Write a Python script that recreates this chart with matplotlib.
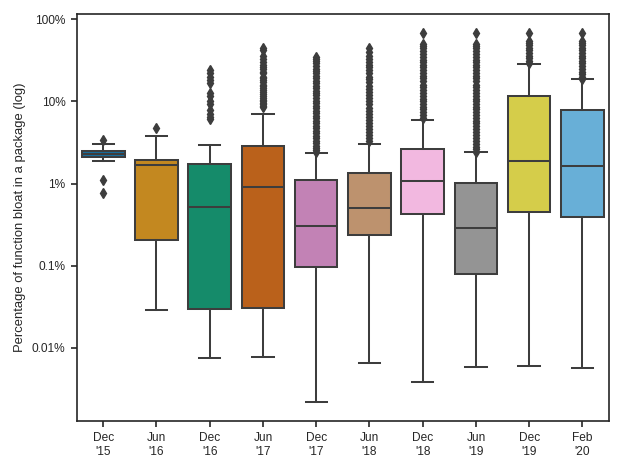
import matplotlib
matplotlib.use("Agg")
import matplotlib.pyplot as plt
import seaborn as sns

# box statistics, in percent
labels = ["Dec\n'15", "Jun\n'16", "Dec\n'16", "Jun\n'17", "Dec\n'17",
          "Jun\n'18", "Dec\n'18", "Jun\n'19", "Dec\n'19", "Feb\n'20"]
med = [2.28, 1.69, 0.52, 0.90, 0.303, 0.506, 1.08, 0.289, 1.86, 1.63]
q1 = [2.08, 0.205, 0.0294, 0.0308, 0.0953, 0.236, 0.428, 0.0797, 0.449, 0.390]
q3 = [2.50, 1.93, 1.75, 2.88, 1.09, 1.36, 2.64, 1.01, 11.5, 7.82]
whislo = [1.86, 0.0288, 0.0075, 0.0077, 0.00217, 0.00648, 0.00384, 0.00589, 0.0060, 0.00573]
whishi = [3.01, 3.77, 2.93, 7.1, 2.34, 3.07, 5.96, 2.41, 28.1, 18.8]

fliers_dec15 = [3.4, 1.1, 0.76]
fliers_jun16 = [4.7]
fliers_dec16 = [24, 22, 20, 18, 16.5, 12.5, 11.5, 10.2, 9.4, 7.8, 7.0, 6.5, 6.1]
fliers_jun17 = [44, 42, 36, 33, 30, 28, 26.5, 25, 23, 22, 20, 19, 18, 17, 16, 15.2,
                14.5, 13.8, 13, 12.3, 11.6, 11, 10.5, 10, 9.6, 9.2, 8.8, 8.5]
fliers_dec17 = [35, 33, 31, 29, 27, 25, 23.5, 22, 20.5, 19, 17.8, 16.6, 15.5, 14.5,
                13.5, 12.6, 11.8, 11, 10.2, 9.5, 8.9, 8.3, 7.7, 7.2, 6.7, 6.2, 5.8,
                5.4, 5.0, 4.7, 4.4, 4.1, 3.8, 3.55, 3.3, 3.1, 2.9, 2.7, 2.55, 2.45]
fliers_jun18 = [44, 40, 36, 33, 30, 28, 26, 24, 22, 20, 18.5, 17, 15.5, 14.2, 13, 12,
                11, 10, 9.2, 8.4, 7.7, 7.0, 6.4, 5.9, 5.4, 5.0, 4.6, 4.2, 3.9, 3.6, 3.3]
fliers_dec18 = [68, 50, 47, 44, 41, 38, 35, 32, 30, 28, 26, 24, 22, 20.5, 19, 17.5,
                16, 14.8, 13.7, 12.7, 11.7, 10.8, 10, 9.3, 8.6, 8.0, 7.4, 6.8, 6.3]
fliers_jun19 = [68, 50, 47, 44, 41, 38, 35, 32, 30, 28, 26, 24, 22, 20.5, 19, 17.5,
                16, 14.8, 13.7, 12.7, 11.7, 10.8, 10, 9.3, 8.6, 8.0, 7.4, 6.8, 6.3,
                5.8, 5.4, 5.0, 4.6, 4.2, 3.9, 3.6, 3.3, 3.05, 2.8, 2.6, 2.45]
fliers_dec19 = [68, 54, 51, 48, 45, 42, 39, 36, 33.5, 31, 29]
fliers_feb20 = [68, 54, 51, 48, 45, 42, 39, 36, 33.5, 31, 29, 27, 25, 23, 21.5, 20, 18.5]

fliers = [fliers_dec15, fliers_jun16, fliers_dec16, fliers_jun17, fliers_dec17,
          fliers_jun18, fliers_dec18, fliers_jun19, fliers_dec19, fliers_feb20]

plt.rcParams['font.family'] = ['Liberation Sans', 'DejaVu Sans']

# seaborn style colours: colorblind palette, desaturated like sns.boxplot
colors = [sns.desaturate(c, 0.75) for c in sns.color_palette("colorblind", 10)]
gray = "#3d3d3d"
text_col = "#262626"

stats = []
for i in range(len(labels)):
    stats.append({"med": med[i], "q1": q1[i], "q3": q3[i],
                  "whislo": whislo[i], "whishi": whishi[i], "fliers": fliers[i]})

fig = plt.figure(figsize=(6.23, 4.67), dpi=100)
ax = fig.add_axes([0.123, 0.099, 0.8545, 0.870])

lw = 1.45
bp = ax.bxp(stats, positions=range(len(labels)), widths=0.8, patch_artist=True,
            boxprops=dict(edgecolor=gray, linewidth=lw),
            medianprops=dict(color=gray, linewidth=lw),
            whiskerprops=dict(color=gray, linewidth=lw),
            capprops=dict(color=gray, linewidth=lw),
            flierprops=dict(marker="d", markersize=4.9, markerfacecolor=gray,
                            markeredgecolor=gray, linestyle="none"))
for patch, c in zip(bp["boxes"], colors):
    patch.set_facecolor(c)

ax.set_yscale("log")
ax.set_ylim(0.0013, 114)
ax.set_xlim(-0.5, len(labels) - 0.5)
ax.set_yticks([0.01, 0.1, 1, 10, 100])
ax.set_yticklabels(["0.01%", "0.1%", "1%", "10%", "100%"])
ax.minorticks_off()
ax.set_xticks(range(len(labels)))
ax.set_xticklabels(labels)
ax.set_ylabel("Percentage of function bloat in a package (log)", fontsize=9.35,
              color=text_col, labelpad=3.9)

for s in ax.spines.values():
    s.set_color(text_col)
    s.set_linewidth(1.2)
ax.tick_params(axis="both", length=4.67, width=1.2, pad=3.4, color=text_col,
               labelcolor=text_col, labelsize=8.55)

fig.savefig("out.png", dpi=100)
